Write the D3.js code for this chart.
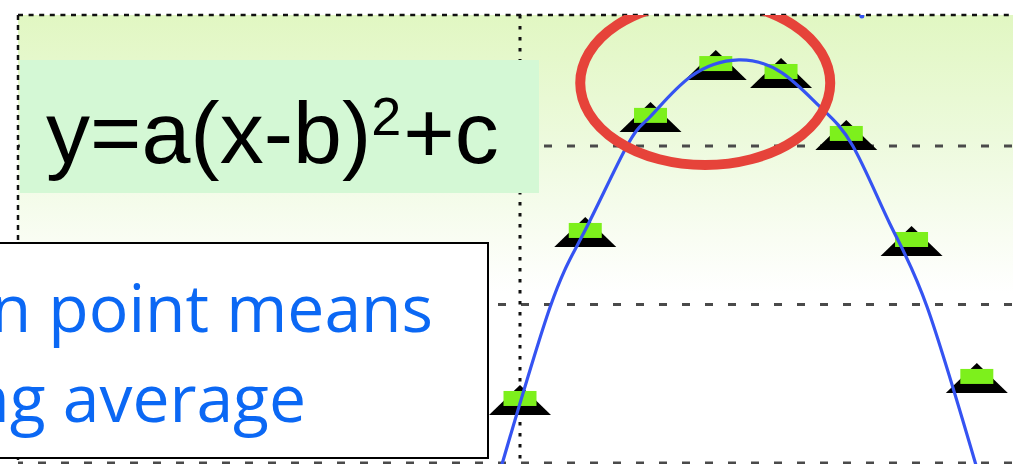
<!DOCTYPE html>
<html>
<head>
<meta charset="utf-8">
<script src="https://cdn.jsdelivr.net/npm/d3@7"></script>
<style>
  html, body { margin: 0; padding: 0; background: #fff; overflow: hidden; }
  svg { display: block; }
</style>
</head>
<body>
<svg id="chart" width="1013" height="464"></svg>
<script>
// values (arbitrary units, gridlines every 10)
const xGrid = [0, 10]
const yGrid = [0, 10, 20]

// moving-average points (triangle markers)
const pointX = [10, 11.3, 12.6, 13.9, 15.2, 16.5, 17.8, 19.1]
const pointY = [4.04, 14.64, 21.9, 25.17, 24.67, 20.76, 14.07, 5.43]

// fitted curve
const curveX = [9.55, 10.6, 11.29, 12.13, 12.59, 13.39, 14.36, 15.22, 15.98, 16.63, 17.37, 18.11, 19.17]
const curveY = [-1.07, 9.84, 14.64, 20.0, 21.83, 24.35, 25.43, 24.61, 22.46, 20.0, 15.08, 9.84, -1.07]

// highlight around the top of the curve
const ringCenter = [13.69, 23.97]
const ringRadius = [2.49, 5.17]

const strayDot = [16.81, 28.2]

const formulaMain = "y=a(x-b)"
const formulaSup = "2"
const formulaTail = "+c"
const noteLines = ["n point means", "ng average"]

const svg = d3.select("#chart")
const W = 1013, H = 464
const frame = { left: 18, top: 15 }

const x = d3.scaleLinear().domain([0, 20]).range([18, 1022])
const y = d3.scaleLinear().domain([0, 20]).range([463, 146])

const defs = svg.append("defs")
const grad = defs.append("linearGradient").attr("id", "bg").attr("x1", 0).attr("y1", 0).attr("x2", 0).attr("y2", 1)
grad.append("stop").attr("offset", "0").attr("stop-color", "#e1f7c2")
grad.append("stop").attr("offset", "0.28").attr("stop-color", "#edfadd")
grad.append("stop").attr("offset", "0.5").attr("stop-color", "#f9fdf3")
grad.append("stop").attr("offset", "0.62").attr("stop-color", "#ffffff")
defs.append("clipPath").attr("id", "plotclip").append("rect")
  .attr("x", frame.left).attr("y", frame.top).attr("width", W - frame.left).attr("height", H - frame.top)

// background
svg.append("rect").attr("x", frame.left).attr("y", frame.top)
  .attr("width", W - frame.left).attr("height", H - frame.top).attr("fill", "url(#bg)")

// horizontal gridlines
svg.selectAll(".hgrid").data(yGrid).enter().append("line").attr("class", "hgrid")
  .attr("x1", frame.left).attr("x2", W).attr("y1", (d) => y(d)).attr("y2", (d) => y(d))
  .attr("stroke", "#4a4a4a").attr("stroke-width", 3).attr("stroke-dasharray", "8 15").attr("stroke-dashoffset", 3)

// vertical gridlines: the first one is the frame edge
svg.selectAll(".vgrid").data(xGrid).enter().append("line").attr("class", "vgrid")
  .attr("x1", (d) => x(d)).attr("x2", (d) => x(d)).attr("y1", frame.top).attr("y2", H)
  .attr("stroke", "#111").attr("stroke-width", (d, i) => (i === 0 ? 2.5 : 3))
  .attr("stroke-dasharray", (d, i) => (i === 0 ? "5 5" : "3.5 7.5"))

// top frame
svg.append("line").attr("x1", frame.left).attr("x2", W).attr("y1", frame.top).attr("y2", frame.top)
  .attr("stroke", "#111").attr("stroke-width", 2.5).attr("stroke-dasharray", "5 5.6")

const plot = svg.append("g").attr("clip-path", "url(#plotclip)")

// markers: black triangle with a green block on it
const pts = pointX.map((v, i) => ({ x: v, y: pointY[i] }))
const mk = plot.selectAll(".mk").data(pts).enter().append("g").attr("class", "mk")
  .attr("transform", (d) => `translate(${x(d.x)},${y(d.y)})`)
mk.append("path").attr("d", "M0,-14 L31,16 L-31,16 Z").attr("fill", "#000")
mk.append("rect").attr("x", -16.5).attr("y", -8).attr("width", 33).attr("height", 15).attr("fill", "#7df01c")

// curve
const line = d3.line().x((d) => x(d[0])).y((d) => y(d[1])).curve(d3.curveNatural)
plot.append("path").datum(curveX.map((v, i) => [v, curveY[i]]))
  .attr("d", line).attr("fill", "none").attr("stroke", "#3553f2").attr("stroke-width", 3.2)

plot.append("circle").attr("cx", x(strayDot[0])).attr("cy", y(strayDot[1])).attr("r", 2.5).attr("fill", "#3553f2")

// red ring
plot.append("ellipse")
  .attr("cx", x(ringCenter[0])).attr("cy", y(ringCenter[1]))
  .attr("rx", x(ringCenter[0] + ringRadius[0]) - x(ringCenter[0]))
  .attr("ry", y(0) - y(ringRadius[1]))
  .attr("fill", "none").attr("stroke", "#e6433a").attr("stroke-width", 10)

// formula box
svg.append("rect").attr("x", 20).attr("y", 60).attr("width", 519).attr("height", 133).attr("fill", "#d4f8d5")
const ft = svg.append("text").attr("x", 46).attr("y", 163)
  .attr("font-family", "'Liberation Sans', Arial, sans-serif").attr("font-size", 88).attr("fill", "#000")
ft.append("tspan").text(formulaMain)
ft.append("tspan").attr("font-size", 54).attr("dy", -28).text(formulaSup)
ft.append("tspan").attr("font-size", 88).attr("dy", 28).attr("dx", 2).text(formulaTail)

// note box
svg.append("rect").attr("x", -3).attr("y", 243).attr("width", 491).attr("height", 215)
  .attr("fill", "#fff").attr("stroke", "#000").attr("stroke-width", 2)
svg.selectAll(".note").data(noteLines).enter().append("text").attr("class", "note")
  .attr("x", (d, i) => (i === 0 ? 433 : 306)).attr("y", (d, i) => (i === 0 ? 332 : 422))
  .attr("text-anchor", "end").attr("font-family", "'Open Sans', sans-serif").attr("font-size", 66)
  .attr("fill", "#0b68f4").text((d) => d)
</script>
</body>
</html>
